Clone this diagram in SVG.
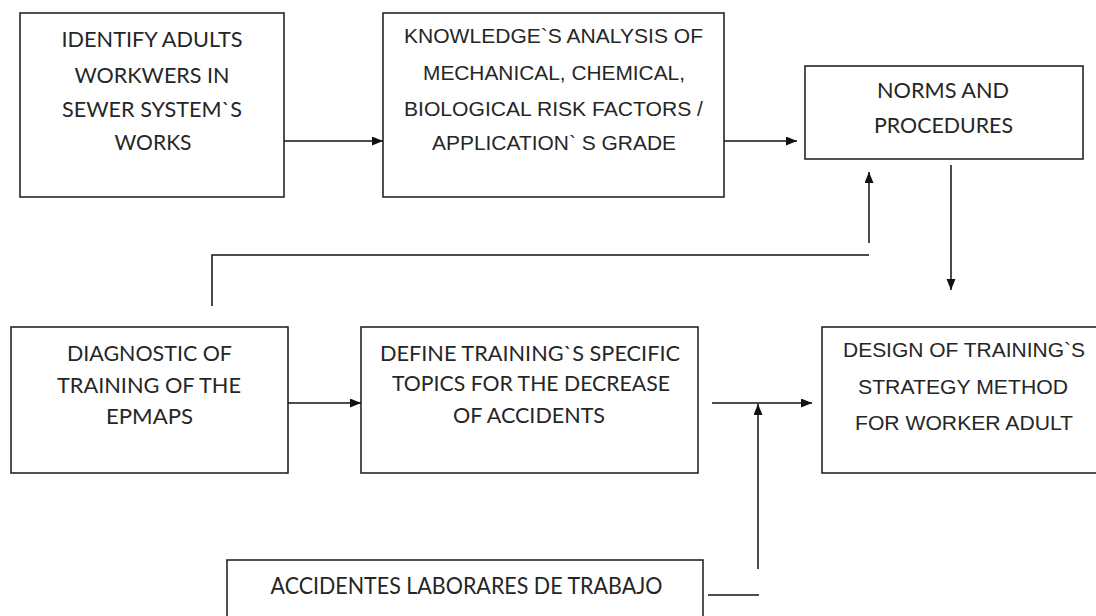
<svg xmlns="http://www.w3.org/2000/svg" width="1096" height="616" viewBox="0 0 1096 616">
<style>
.box{fill:#fff;stroke:#262626;stroke-width:1.6}
.c{font-family:Lato,"Open Sans","Liberation Sans",sans-serif;font-size:21px;fill:#262626;text-anchor:middle}
.a{font-family:"Liberation Sans",Arial,sans-serif;font-size:21px;fill:#262626;text-anchor:middle}
.ln{fill:none;stroke:#111;stroke-width:1.5}
</style>
<defs>
<marker id="ah" markerUnits="userSpaceOnUse" markerWidth="12" markerHeight="10" refX="11" refY="4.5" orient="auto">
<path d="M0,0 L11,4.5 L0,9 z" fill="#111"/>
</marker>
</defs>
<rect width="1096" height="616" fill="#fff"/>
<g id="n1">
<rect class="box" x="20" y="13" width="264" height="184"/>
<text class="c" x="152" y="46.5" textLength="181" lengthAdjust="spacingAndGlyphs">IDENTIFY ADULTS</text>
<text class="c" x="152" y="82.5" textLength="155" lengthAdjust="spacingAndGlyphs">WORKWERS IN</text>
<text class="c" x="152" y="116.5" textLength="180" lengthAdjust="spacingAndGlyphs">SEWER SYSTEM`S</text>
<text class="c" x="153" y="149.5" textLength="77" lengthAdjust="spacingAndGlyphs">WORKS</text>
</g>
<g id="n2">
<rect class="box" x="383" y="13" width="341" height="184"/>
<text class="a" x="553.5" y="42.5" textLength="299" lengthAdjust="spacingAndGlyphs">KNOWLEDGE`S ANALYSIS OF</text>
<text class="a" x="554" y="79.5" textLength="262" lengthAdjust="spacingAndGlyphs">MECHANICAL, CHEMICAL,</text>
<text class="a" x="553.5" y="115.5" textLength="299" lengthAdjust="spacingAndGlyphs">BIOLOGICAL RISK FACTORS /</text>
<text class="a" x="554" y="149.5" textLength="244" lengthAdjust="spacingAndGlyphs">APPLICATION` S GRADE</text>
</g>
<g id="n3">
<rect class="box" x="805" y="66" width="278" height="93"/>
<text class="c" x="943" y="97.5" textLength="132" lengthAdjust="spacingAndGlyphs">NORMS AND</text>
<text class="c" x="943.5" y="132.5" textLength="139" lengthAdjust="spacingAndGlyphs">PROCEDURES</text>
</g>
<g id="n4">
<rect class="box" x="11" y="327" width="277" height="146"/>
<text class="c" x="149.5" y="360.5" textLength="165" lengthAdjust="spacingAndGlyphs">DIAGNOSTIC OF</text>
<text class="c" x="149" y="392.5" textLength="184" lengthAdjust="spacingAndGlyphs">TRAINING OF THE</text>
<text class="c" x="149.5" y="423.5" textLength="87" lengthAdjust="spacingAndGlyphs">EPMAPS</text>
</g>
<g id="n5">
<rect class="box" x="361" y="327" width="337" height="146"/>
<text class="c" x="530" y="360.5" textLength="300" lengthAdjust="spacingAndGlyphs">DEFINE TRAINING`S SPECIFIC</text>
<text class="c" x="531" y="390.5" textLength="278" lengthAdjust="spacingAndGlyphs">TOPICS FOR THE DECREASE</text>
<text class="c" x="529" y="422.5" textLength="152" lengthAdjust="spacingAndGlyphs">OF ACCIDENTS</text>
</g>
<g id="n6">
<rect class="box" x="822" y="327" width="282" height="146"/>
<text class="a" x="964" y="356.5" textLength="242" lengthAdjust="spacingAndGlyphs">DESIGN OF TRAINING`S</text>
<text class="a" x="963" y="393.5" textLength="210" lengthAdjust="spacingAndGlyphs">STRATEGY METHOD</text>
<text class="a" x="964" y="429.5" textLength="218" lengthAdjust="spacingAndGlyphs">FOR WORKER ADULT</text>
</g>
<g id="n7">
<rect class="box" x="227" y="560" width="476" height="70"/>
<text class="c" x="466.5" y="593.5" style="font-size:23px" textLength="392" lengthAdjust="spacingAndGlyphs">ACCIDENTES LABORARES DE TRABAJO</text>
</g>
<g id="connectors">
<line class="ln" x1="284" y1="141" x2="383" y2="141" marker-end="url(#ah)"/>
<line class="ln" x1="724" y1="141" x2="797" y2="141" marker-end="url(#ah)"/>
<polyline class="ln" points="212,306 212,255 869,255"/>
<line class="ln" x1="869" y1="243" x2="869" y2="172" marker-end="url(#ah)"/>
<line class="ln" x1="951" y1="165" x2="951" y2="290" marker-end="url(#ah)"/>
<line class="ln" x1="288" y1="403" x2="361" y2="403" marker-end="url(#ah)"/>
<line class="ln" x1="712" y1="403" x2="812" y2="403" marker-end="url(#ah)"/>
<line class="ln" x1="758" y1="569" x2="758" y2="404" marker-end="url(#ah)"/>
<line class="ln" x1="708" y1="595" x2="759" y2="595"/>
</g>
</svg>
